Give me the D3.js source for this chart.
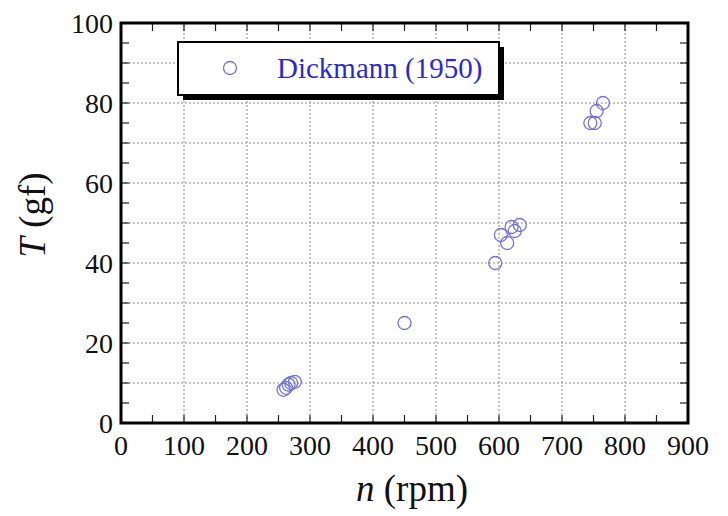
<!DOCTYPE html>
<html>
<head>
<meta charset="utf-8">
<script src="https://cdn.jsdelivr.net/npm/d3@7"></script>
<style>
  body { margin: 0; background: #fff; }
  text { font-family: "Liberation Serif", "DejaVu Serif", serif; }
</style>
</head>
<body>
<div id="chart"></div>
<script>
// Dickmann (1950) measurements: rotation speed (rpm) vs thrust (gf)
const rpm = [258, 262, 266, 270, 276, 450, 594, 603, 613, 620, 625, 633, 745, 752, 755, 765];
const thrust = [8.3, 8.8, 9.6, 10.0, 10.3, 25, 40, 47, 45, 49, 48, 49.5, 75, 75, 78, 80];
const xTicks = [0, 100, 200, 300, 400, 500, 600, 700, 800, 900];
const yTicks = [0, 20, 40, 60, 80, 100];
const legendLabel = 'Dickmann (1950)';

const width = 728, height = 516;
const margin = { top: 23, right: 40, bottom: 93, left: 121 };

const svg = d3.select('#chart').append('svg')
    .attr('width', width)
    .attr('height', height);

const x = d3.scaleLinear().domain([0, 900]).range([margin.left, width - margin.right]);
const y = d3.scaleLinear().domain([0, 100]).range([height - margin.bottom, margin.top]);

// dotted grid
const grid = svg.append('g')
    .attr('stroke', '#8a8a8a')
    .attr('stroke-width', 1)
    .attr('stroke-dasharray', '2,2');

grid.selectAll('line.v')
  .data(d3.range(100, 900, 100))
  .join('line')
    .attr('x1', d => x(d)).attr('x2', d => x(d))
    .attr('y1', y(0)).attr('y2', y(100));

grid.selectAll('line.h')
  .data(d3.range(10, 100, 10))
  .join('line')
    .attr('class', 'h')
    .attr('x1', x(0)).attr('x2', x(900))
    .attr('y1', d => y(d)).attr('y2', d => y(d));

// inward ticks on all four sides
const tickLen = 8;
const xt = d3.range(50, 900, 50);
const yt = d3.range(5, 100, 5);
const ticks = svg.append('g').attr('stroke', '#222').attr('stroke-width', 1.2);

ticks.selectAll('line.xb').data(xt).join('line').attr('class', 'xb')
    .attr('x1', d => x(d)).attr('x2', d => x(d))
    .attr('y1', y(0)).attr('y2', y(0) - tickLen);
ticks.selectAll('line.xt').data(xt).join('line').attr('class', 'xt')
    .attr('x1', d => x(d)).attr('x2', d => x(d))
    .attr('y1', y(100)).attr('y2', y(100) + tickLen);
ticks.selectAll('line.yl').data(yt).join('line').attr('class', 'yl')
    .attr('x1', x(0)).attr('x2', x(0) + tickLen)
    .attr('y1', d => y(d)).attr('y2', d => y(d));
ticks.selectAll('line.yr').data(yt).join('line').attr('class', 'yr')
    .attr('x1', x(900)).attr('x2', x(900) - tickLen)
    .attr('y1', d => y(d)).attr('y2', d => y(d));

// frame
svg.append('rect')
    .attr('x', x(0)).attr('y', y(100))
    .attr('width', x(900) - x(0)).attr('height', y(0) - y(100))
    .attr('fill', 'none')
    .attr('stroke', '#000')
    .attr('stroke-width', 3);

// tick labels
svg.append('g').selectAll('text')
  .data(xTicks)
  .join('text')
    .attr('x', d => x(d))
    .attr('y', y(0) + 32)
    .attr('text-anchor', 'middle')
    .attr('font-size', 28)
    .attr('fill', '#111')
    .text(d => d);

svg.append('g').selectAll('text')
  .data(yTicks)
  .join('text')
    .attr('x', x(0) - 8)
    .attr('y', d => y(d))
    .attr('dy', '0.34em')
    .attr('text-anchor', 'end')
    .attr('font-size', 28)
    .attr('fill', '#111')
    .text(d => d);

// axis titles
const xTitle = svg.append('text')
    .attr('x', 412)
    .attr('y', 501)
    .attr('text-anchor', 'middle')
    .attr('font-size', 37)
    .attr('fill', '#111');
xTitle.append('tspan').attr('font-style', 'italic').text('n');
xTitle.append('tspan').text(' (rpm)');

const yTitle = svg.append('text')
    .attr('transform', 'translate(45,215) rotate(-90)')
    .attr('text-anchor', 'middle')
    .attr('font-size', 37)
    .attr('fill', '#111');
yTitle.append('tspan').attr('font-style', 'italic').text('T');
yTitle.append('tspan').text(' (gf)');

// data points
svg.append('g')
    .attr('fill', 'none')
    .attr('stroke', '#7272d8')
    .attr('stroke-width', 1.3)
  .selectAll('circle')
  .data(rpm)
  .join('circle')
    .attr('cx', d => x(d))
    .attr('cy', (d, i) => y(thrust[i]))
    .attr('r', 6.5);

// legend with drop shadow
const lg = svg.append('g');
lg.append('rect')
    .attr('x', 183).attr('y', 47)
    .attr('width', 321).attr('height', 53)
    .attr('fill', '#000');
lg.append('rect')
    .attr('x', 178).attr('y', 42)
    .attr('width', 321).attr('height', 53)
    .attr('fill', '#fff')
    .attr('stroke', '#000')
    .attr('stroke-width', 2);
lg.append('circle')
    .attr('cx', 230).attr('cy', 68)
    .attr('r', 6.5)
    .attr('fill', 'none')
    .attr('stroke', '#7272d8')
    .attr('stroke-width', 1.3);
lg.append('text')
    .attr('x', 277).attr('y', 78)
    .attr('font-size', 29)
    .attr('fill', '#2a2acc')
    .text(legendLabel);
</script>
</body>
</html>
